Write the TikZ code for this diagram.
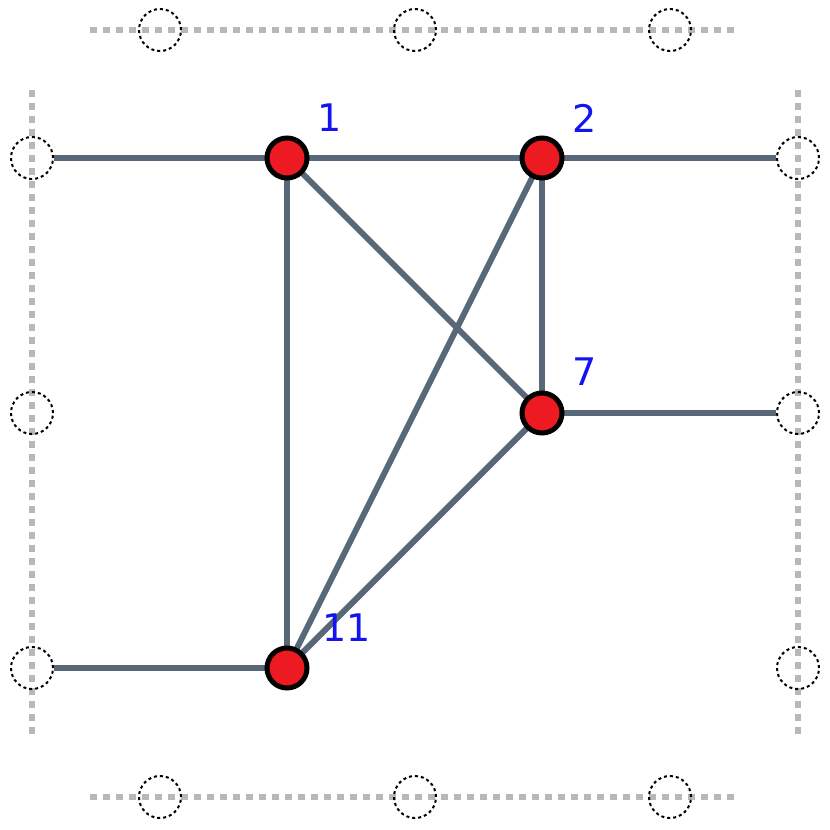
\documentclass[tikz,border=0pt]{standalone}
\usepackage{fontspec}
\setsansfont{DejaVu Sans}
\definecolor{edgecol}{RGB}{88,104,120}
\definecolor{vertred}{RGB}{238,26,34}
\definecolor{labblue}{RGB}{20,20,240}
\begin{document}
\begin{tikzpicture}[x=1pt,y=-1pt,
    vertex/.style={circle, draw=black, fill=vertred, line width=5pt, minimum size=40pt, inner sep=0pt},
    ghost/.style={circle, draw=black, dashed, line width=2pt, minimum size=42pt, inner sep=0pt},
    vlabel/.style={text=labblue, font=\sffamily\fontsize{38}{38}\selectfont},
    edge/.style={draw=edgecol, line width=6pt},
    border/.style={draw=black!28, line width=6pt, dash pattern=on 7pt off 6pt}]
    \useasboundingbox (0,0) rectangle (830,830);
    % Borders
    \draw[border] (90,30) -- (740,30);
    \draw[border] (90,797) -- (740,797);
    \draw[border] (32,90) -- (32,740);
    \draw[border] (798,90) -- (798,740);
    % Ghost nodes
    \node[ghost] (l1) at (32,158) {};
    \node[ghost] (l2) at (32,413) {};
    \node[ghost] (l3) at (32,668) {};
    \node[ghost] (r1) at (798,158) {};
    \node[ghost] (r2) at (798,413) {};
    \node[ghost] (r3) at (798,668) {};
    \node[ghost] (t1) at (160,30) {};
    \node[ghost] (t2) at (415,30) {};
    \node[ghost] (t3) at (670,30) {};
    \node[ghost] (b1) at (160,797) {};
    \node[ghost] (b2) at (415,797) {};
    \node[ghost] (b3) at (670,797) {};
    % Vertices
    \coordinate (p1) at (287,158);
    \coordinate (p2) at (542,158);
    \coordinate (p7) at (542,413);
    \coordinate (p11) at (287,668);
    % Edges
    \draw[edge] (l1) -- (p1);
    \draw[edge] (p2) -- (r1);
    \draw[edge] (p7) -- (r2);
    \draw[edge] (l3) -- (p11);
    \draw[edge] (p1) -- (p2);
    \draw[edge] (p1) -- (p7);
    \draw[edge] (p1) -- (p11);
    \draw[edge] (p2) -- (p7);
    \draw[edge] (p2) -- (p11);
    \draw[edge] (p7) -- (p11);
    \node[vertex] (v1) at (p1) {};
    \node[vertex] (v2) at (p2) {};
    \node[vertex] (v7) at (p7) {};
    \node[vertex] (v11) at (p11) {};
    % Labels
    \node[vlabel] (n1) at (330,118) {1};
    \node[vlabel] (n2) at (585,118) {2};
    \node[vlabel] (n7) at (585,372) {7};
    \node[vlabel] (n11) at (347,628) {11};
\end{tikzpicture}
\end{document}
